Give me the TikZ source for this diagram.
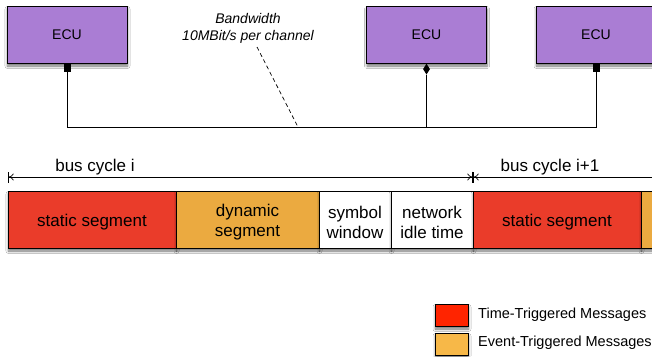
\documentclass[tikz,border=0pt]{standalone}
\usepackage{fontspec}
\setmainfont{Liberation Sans}
\usetikzlibrary{arrows.meta,shadows,shadows.blur,shapes.geometric}
\definecolor{ecu}{RGB}{170,125,212}
\definecolor{segred}{RGB}{234,60,42}
\definecolor{segorange}{RGB}{235,170,64}
\definecolor{legred}{RGB}{255,36,0}
\definecolor{legorange}{RGB}{247,184,72}
\begin{document}
\begin{tikzpicture}[x=1pt,y=-1pt,
  shad/.style={blur shadow={shadow xshift=0.5pt,shadow yshift=-3pt,shadow blur radius=2.5pt,shadow blur steps=6,shadow opacity=55}},
  ecubox/.style={draw=black,line width=0.8pt,fill=ecu,minimum width=120pt,minimum height=57pt,inner sep=0pt,font=\fontsize{14}{16}\selectfont,shad},
  sqmark/.style={fill=black,draw=none,minimum width=7pt,minimum height=8pt,inner sep=0pt,anchor=north},
  dmmark/.style={diamond,fill=black,draw=none,minimum width=7pt,minimum height=11pt,inner sep=0pt,anchor=north},
  seg/.style={draw=black,line width=0.8pt,minimum height=57pt,inner sep=0pt,shad},
  seglbl/.style={align=center,font=\fontsize{17}{20}\selectfont,inner sep=0pt,yshift=-2.5pt},
  cyclbl/.style={font=\fontsize{17}{20}\selectfont,anchor=base,inner sep=0pt},
  cyc/.style={line width=0.7pt},
  legbox/.style={draw=black,line width=0.8pt,minimum width=33pt,minimum height=22pt,inner sep=0pt,shad},
  legtxt/.style={font=\fontsize{14.5}{17}\selectfont,anchor=west,inner sep=0pt},
  wire/.style={line width=0.8pt}
]
\useasboundingbox (0,0) rectangle (652,356);
\clip (0,0) rectangle (652,356);
\fill[white] (0,0) rectangle (652,356);

% ECUs
\node[ecubox] (e1) at (67,34.5) {ECU};
\node[ecubox] (e2) at (426.5,34.5) {ECU};
\node[ecubox] (e3) at (596,34.5) {ECU};
\node[sqmark] (m1) at (e1.south) {};
\node[dmmark] (m2) at (e2.south) {};
\node[sqmark] (m3) at (e3.south) {};

% bus
\coordinate (bus) at (0,127);
\draw[wire] (m1.south) -- (m1 |- bus) -- (m3 |- bus) -- (m3.south);
\draw[wire] (m2.south) -- (m2 |- bus);

% bandwidth label
\node[font=\itshape\fontsize{14}{17}\selectfont,align=center,inner sep=0pt] (bw) at (248,28) {Bandwidth\\10MBit/s per channel};
\coordinate (bwstart) at (257,47);
\coordinate (bwend) at (298,127);
\draw[line width=0.7pt,dash pattern=on 4pt off 3pt] (bwstart) -- (bwend);

% bus cycles
\coordinate (c0) at (8,177);
\coordinate (c1) at (473,177);
\coordinate (c2) at (660,177);
\draw[cyc,{Bar[width=11pt]To[length=5pt,width=7pt]}-{To[length=5pt,width=7pt]Bar[width=11pt]}] (c0) -- (c1);
\draw[cyc,{Bar[width=11pt]To[length=5pt,width=7pt]}-] (c1) -- (c2);
\node[cyclbl] (l1) at (95,171) {bus cycle i};
\node[cyclbl] (l2) at (550,171) {bus cycle i+1};

% segments
\node[seg,fill=segred,minimum width=168pt,label={[seglbl]center:static segment}] (s1) at (92,219.5) {};
\node[seg,fill=segorange,minimum width=143pt,label={[seglbl]center:dynamic\\segment}] (s2) at (247.5,219.5) {};
\node[seg,fill=white,minimum width=72pt,label={[seglbl]center:symbol\\window}] (s3) at (355,219.5) {};
\node[seg,fill=white,minimum width=82pt,label={[seglbl]center:network\\idle time}] (s4) at (432,219.5) {};
\node[seg,fill=segred,minimum width=168pt,label={[seglbl]center:static segment}] (s5) at (557,219.5) {};
\node[seg,fill=segorange,minimum width=143pt] (s6) at (712.5,219.5) {};

% legend
\node[legbox,fill=legred] (g1) at (451.5,315) {};
\node[legbox,fill=legorange] (g2) at (451.5,344) {};
\node[legtxt] (t1) at (478,315) {Time-Triggered Messages};
\node[legtxt] (t2) at (478,343) {Event-Triggered Messages};
\end{tikzpicture}
\end{document}
